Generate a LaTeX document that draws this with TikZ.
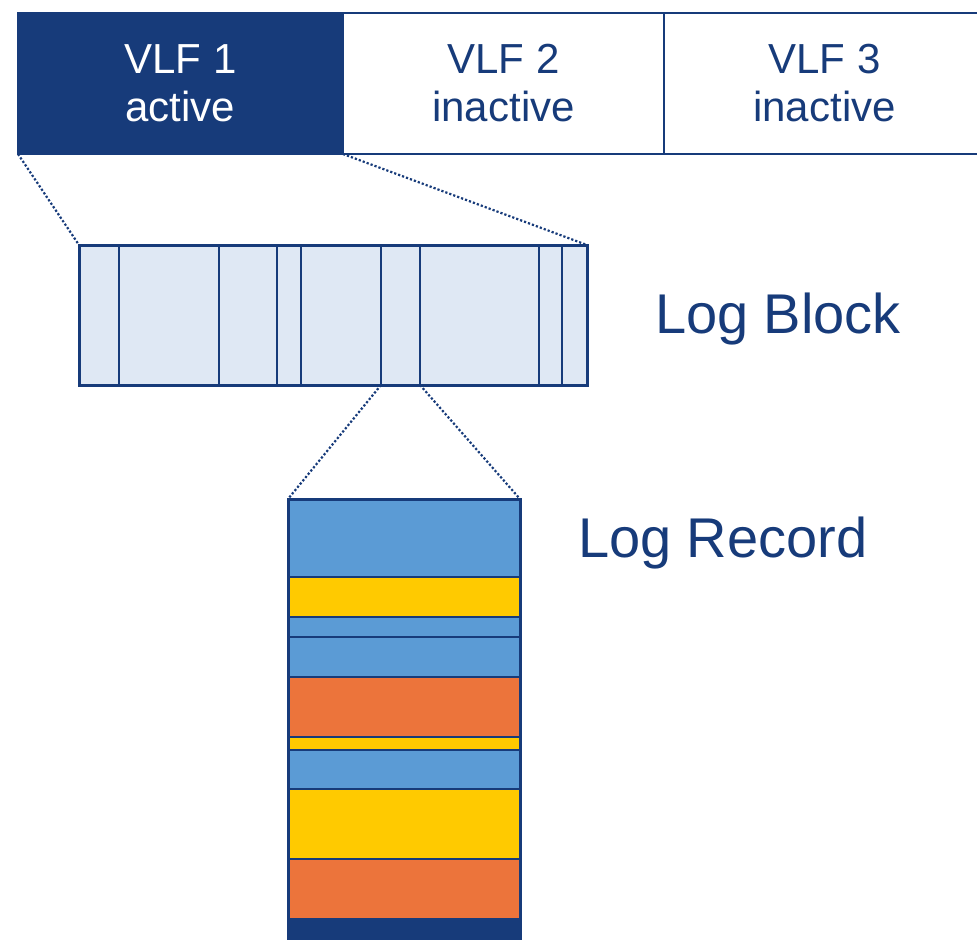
\documentclass[tikz,border=0pt]{standalone}
\usepackage{fontspec}
\setmainfont{Liberation Sans}
\usepackage{xcolor}
\usepackage{tikz}
\usetikzlibrary{positioning, calc}

\definecolor{vlfblue}{HTML}{173B7A}
\definecolor{blockfill}{HTML}{DFE8F4}
\definecolor{recblue}{HTML}{5B9BD5}
\definecolor{recyellow}{HTML}{FFCA00}
\definecolor{recorange}{HTML}{EC743B}

\begin{document}
\begin{tikzpicture}[
    x=0.5pt, y=-0.5pt,
    every node/.style={align=center, inner sep=0pt, outer sep=0pt},
    vlfcell/.style={rectangle, draw=vlfblue, line width=0.9pt, minimum width=160.5pt, minimum height=70.5pt,
        text=vlfblue, font=\fontsize{21}{24}\selectfont},
    labeltext/.style={text=vlfblue, font=\fontsize{28}{30}\selectfont, anchor=base west},
    divider/.style={draw=vlfblue, line width=1.4pt},
    stripe/.style={draw=vlfblue, line width=1.3pt},
    zoomline/.style={draw=vlfblue, densely dotted, line width=1.1pt}
]
    \useasboundingbox (0,0) rectangle (977,939);
    \clip (0,0) rectangle (977,939);

    % virtual log files
    \node[vlfcell, fill=vlfblue, text=white, minimum width=162.5pt, anchor=north west] (vlf1) at (18,13) {VLF 1\\active};
    \node[vlfcell, right=0pt of vlf1] (vlf2) {VLF 2\\inactive};
    \node[vlfcell, right=0pt of vlf2] (vlf3) {VLF 3\\inactive};

    % log block
    \node[rectangle, fill=blockfill, draw=vlfblue, line width=1.5pt, minimum width=254pt, minimum height=70pt,
        anchor=north west] (block) at (79,245) {};
    \foreach \d in {119,219,277,301,381,420,539,562}
        \draw[divider] (\d,245) -- (\d,385);
    \coordinate (b6) at (381,385);
    \coordinate (b7) at (420,385);
    \node[labeltext] (blocklabel) at (655,333) {Log Block};

    % log record
    \foreach \top/\bot/\col in {499/577/recblue, 577/617/recyellow, 617/637/recblue, 637/677/recblue,
        677/737/recorange, 737/750/recyellow, 750/789/recblue, 789/859/recyellow,
        859/919/recorange, 919/939/vlfblue}
        \filldraw[stripe, fill=\col] (288,\top) rectangle (520,\bot);
    \node[rectangle, draw=vlfblue, line width=1.5pt, minimum width=116pt, minimum height=220pt,
        anchor=north west] (record) at (288,499) {};
    \node[labeltext] (recordlabel) at (578,557) {Log Record};

    % zoom lines
    \draw[zoomline] (vlf1.south west) -- (block.north west);
    \draw[zoomline] (vlf1.south east) -- (block.north east);
    \draw[zoomline] (b6) -- (record.north west);
    \draw[zoomline] (b7) -- (record.north east);
\end{tikzpicture}
\end{document}
